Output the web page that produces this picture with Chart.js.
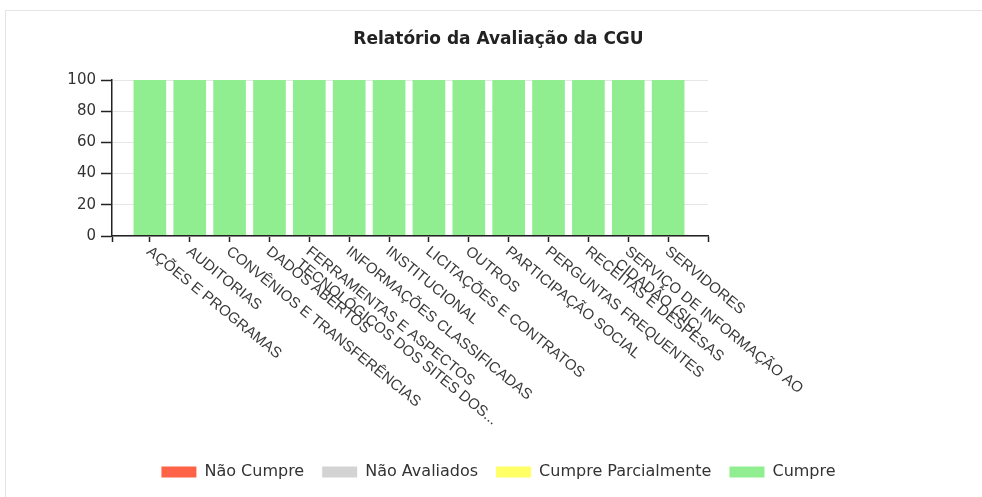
<!DOCTYPE html>
<html>
<head>
<meta charset="utf-8">
<script src="https://cdn.jsdelivr.net/npm/chart.js@4/dist/chart.umd.min.js"></script>
<style>
html,body{margin:0;padding:0;background:#fff;overflow:hidden;width:982px;height:497px;}
#frame{position:absolute;left:5px;top:10px;width:990px;height:500px;border-top:1px solid #e4e4e4;border-left:1px solid #e4e4e4;}
#wrap{position:absolute;left:0;top:0;width:982px;height:497px;}
</style>
</head>
<body>
<div id="frame"></div>
<div id="wrap"><canvas id="c" width="982" height="497"></canvas></div>
<script>
// ---- data ----
const categories = [
  ['AÇÕES E PROGRAMAS'],
  ['AUDITORIAS'],
  ['CONVÊNIOS E TRANSFERÊNCIAS'],
  ['DADOS ABERTOS'],
  ['FERRAMENTAS E ASPECTOS', 'TECNOLÓGICOS DOS SITES DOS...'],
  ['INFORMAÇÕES CLASSIFICADAS'],
  ['INSTITUCIONAL'],
  ['LICITAÇÕES E CONTRATOS'],
  ['OUTROS'],
  ['PARTICIPAÇÃO SOCIAL'],
  ['PERGUNTAS FREQUENTES'],
  ['RECEITAS E DESPESAS'],
  ['SERVIÇO DE INFORMAÇÃO AO', 'CIDADÃO (SIC)'],
  ['SERVIDORES']
];
const naoCumpre          = [0, 0, 0, 0, 0, 0, 0, 0, 0, 0, 0, 0, 0, 0];
const naoAvaliados       = [0, 0, 0, 0, 0, 0, 0, 0, 0, 0, 0, 0, 0, 0];
const cumpreParcialmente = [0, 0, 0, 0, 0, 0, 0, 0, 0, 0, 0, 0, 0, 0];
const cumpre             = [100, 100, 100, 100, 100, 100, 100, 100, 100, 100, 100, 100, 100, 100];
const yTicks = [0, 20, 40, 60, 80, 100];
const seriesNames = ['Não Cumpre', 'Não Avaliados', 'Cumpre Parcialmente', 'Cumpre'];
const titleText = 'Relatório da Avaliação da CGU';

// ---- build ----
const toPoints = arr => arr.map((v, i) => ({ x: i, y: v }));
const colors = ['#FF6347', '#D3D3D3', '#FFFF66', '#90EE90'];
const seriesValues = [naoCumpre, naoAvaliados, cumpreParcialmente, cumpre];

const xLabelPlugin = {
  id: 'xLabels',
  afterDraw(chart) {
    const ctx = chart.ctx;
    const xs = chart.scales.x;
    const base = chart.chartArea.bottom;
    ctx.save();
    ctx.font = '15px "Liberation Sans", Arial, sans-serif';
    ctx.fillStyle = '#3a3a3a';
    ctx.textAlign = 'left';
    ctx.textBaseline = 'alphabetic';
    categories.forEach((lines, i) => {
      const px = xs.getPixelForValue(i);
      ctx.save();
      ctx.translate(px - 4, base + 17);
      ctx.rotate(39 * Math.PI / 180);
      lines.forEach((ln, j) => ctx.fillText(ln, 0, j * 16));
      ctx.restore();
    });
    ctx.restore();
  }
};

new Chart(document.getElementById('c'), {
  type: 'bar',
  data: {
    datasets: seriesNames.map((name, k) => ({
      label: name,
      data: toPoints(seriesValues[k]),
      backgroundColor: colors[k],
      borderColor: colors[k],
      borderWidth: 0,
      barThickness: 32
    }))
  },
  options: {
    responsive: false,
    animation: false,
    devicePixelRatio: 1,
    layout: { padding: { left: 15, right: 0, top: 0, bottom: 7 } },
    plugins: {
      title: {
        display: true,
        text: titleText,
        color: '#222',
        font: { family: 'DejaVu Sans', size: 17, weight: 'bold' },
        padding: { top: 29.8, bottom: 29.8 }
      },
      legend: {
        position: 'bottom',
        labels: {
          font: { family: 'DejaVu Sans', size: 16 },
          color: '#333',
          boxWidth: 35,
          boxHeight: 11,
          padding: 18
        }
      },
      tooltip: { enabled: false }
    },
    scales: {
      x: {
        type: 'linear',
        offset: false,
        min: -0.95,
        max: 14,
        stacked: true,
        afterBuildTicks(s) {
          s.ticks = [{ value: s.min }].concat(categories.map((c, i) => ({ value: i })), [{ value: s.max }]);
        },
        ticks: { display: false },
        grid: { display: true, offset: false, drawOnChartArea: false, drawTicks: true, tickLength: 6, tickColor: '#222', tickWidth: 1.5 },
        border: { display: true, color: '#222', width: 1.5, z: 1 },
        afterFit(s) { s.height = 210; }
      },
      y: {
        type: 'linear',
        min: 0,
        max: 100,
        stacked: true,
        afterBuildTicks(s) { s.ticks = yTicks.map(v => ({ value: v })); },
        ticks: { color: '#333', font: { family: 'DejaVu Sans', size: 15 }, padding: 5 },
        grid: { color: '#e6e6e6', tickColor: '#222', tickLength: 11, tickWidth: 1.5 },
        border: { display: true, color: '#222', width: 1.5, z: 1 },
        afterFit(s) { s.width = 97; }
      },
      y2: {
        type: 'linear',
        position: 'right',
        display: true,
        grid: { display: false },
        border: { display: false },
        ticks: { display: false },
        afterFit(s) { s.width = 274; }
      }
    }
  },
  plugins: [xLabelPlugin]
});
</script>
</body>
</html>
